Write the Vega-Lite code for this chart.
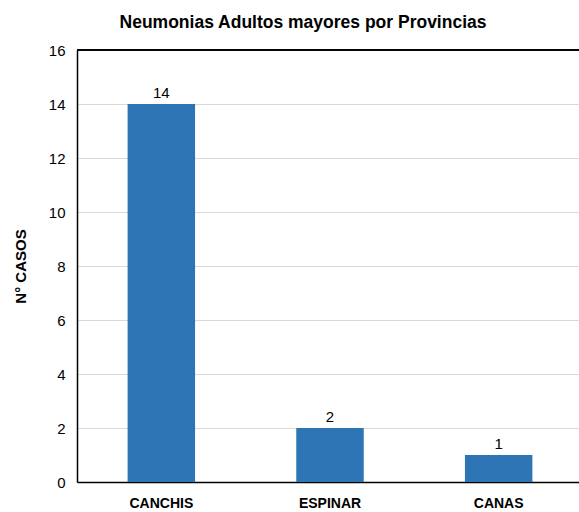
{
  "$schema": "https://vega.github.io/schema/vega-lite/v6.json",
  "autosize": "none",
  "width": 506,
  "height": 432,
  "padding": {"left": 77, "top": 50, "right": 0, "bottom": 30},
  "background": "white",
  "config": {"view": {"stroke": null}, "font": "Liberation Sans"},
  "title": {
    "text": "Neumonias Adultos mayores por Provincias",
    "font": "Liberation Sans",
    "fontSize": 17.5,
    "fontWeight": "bold",
    "color": "#000000",
    "anchor": "middle",
    "dx": -27,
    "offset": 12
  },
  "data": {
    "values": [
      {"provincia": "CANCHIS", "casos": 14},
      {"provincia": "ESPINAR", "casos": 2},
      {"provincia": "CANAS", "casos": 1}
    ]
  },
  "layer": [
    {
      "mark": {"type": "bar", "color": "#2E75B6"},
      "encoding": {
        "x": {
          "field": "provincia",
          "type": "nominal",
          "sort": null,
          "scale": {"paddingInner": 0.6, "paddingOuter": 0.3},
          "axis": {
            "title": null,
            "labelAngle": 0,
            "labelFontSize": 14,
            "labelFontWeight": "bold",
            "labelColor": "#000000",
            "labelPadding": 14,
            "ticks": false,
            "domainColor": "#000000",
            "domainWidth": 1.5
          }
        },
        "y": {
          "field": "casos",
          "type": "quantitative",
          "scale": {"domain": [0, 16]},
          "axis": {
            "title": "N° CASOS",
            "titleFontSize": 15,
            "titleFontWeight": "bold",
            "titleColor": "#000000",
            "titlePadding": 20,
            "values": [0, 2, 4, 6, 8, 10, 12, 14, 16],
            "labelFontSize": 15,
            "labelColor": "#000000",
            "labelPadding": 12,
            "ticks": false,
            "domainColor": "#000000",
            "domainWidth": 1.5,
            "gridColor": "#d9d9d9",
            "gridWidth": 1
          }
        }
      }
    },
    {
      "mark": {"type": "text", "dy": -11, "fontSize": 15, "color": "#000000"},
      "encoding": {
        "x": {"field": "provincia", "type": "nominal", "sort": null},
        "y": {"field": "casos", "type": "quantitative"},
        "text": {"field": "casos", "type": "quantitative"}
      }
    },
    {
      "mark": {"type": "rule", "color": "#000000", "strokeWidth": 1.5},
      "encoding": {"y": {"datum": 16}}
    }
  ]
}
